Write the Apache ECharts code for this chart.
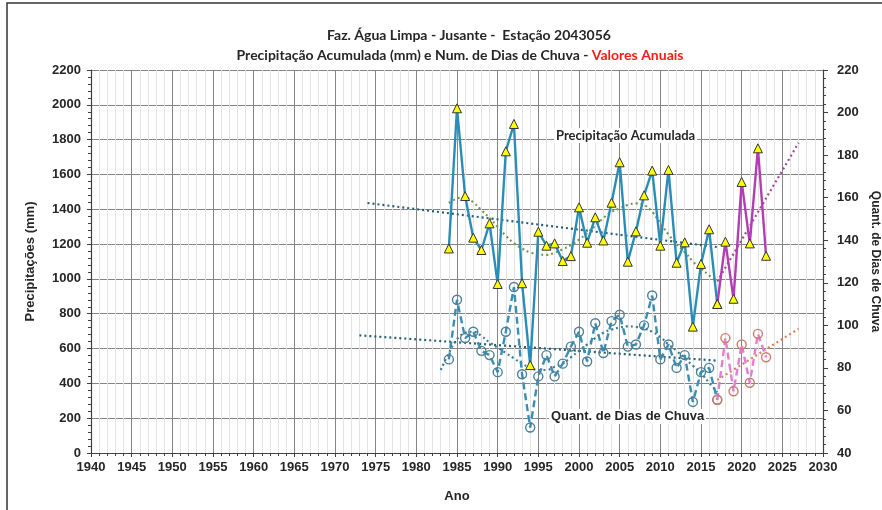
<!DOCTYPE html>
<html>
<head>
<meta charset="utf-8">
<script src="https://cdn.jsdelivr.net/npm/echarts@6/dist/echarts.min.js"></script>
<style>
  html, body { margin: 0; padding: 0; background: #fff; }
  #chart { width: 882px; height: 510px; }
</style>
</head>
<body>
<div id="chart"></div>
<script>
// anos da serie historica
const anos = [1984, 1985, 1986, 1987, 1988, 1989, 1990, 1991, 1992, 1993, 1994, 1995, 1996, 1997, 1998, 1999,
    2000, 2001, 2002, 2003, 2004, 2005, 2006, 2007, 2008, 2009, 2010, 2011, 2012, 2013, 2014, 2015, 2016, 2017]
const precip = [1175, 1980, 1476, 1237, 1166, 1319, 971, 1733, 1890, 975, 505, 1271, 1191, 1204, 1103, 1131,
    1411, 1208, 1354, 1221, 1438, 1670, 1099, 1273, 1480, 1622, 1191, 1626, 1093, 1210, 726, 1086, 1285, 856]
const diasChuva = [84, 112, 94, 97, 88, 86, 78, 97, 118, 77, 52, 76, 86, 76, 82, 90,
    97, 83, 101, 87, 102, 105, 90, 91, 100, 114, 84, 91, 80, 86, 64, 78, 80, 65]

// anos recentes
const anosRecentes = [2017, 2018, 2019, 2020, 2021, 2022, 2023]
const precipRecente = [856, 1214, 886, 1557, 1204, 1750, 1133]
const diasRecente = [65, 94, 69, 91, 73, 96, 85]

// linhas de tendencia
const tendPrecipAnos = [1974, 2017]
const tendPrecip = [1436, 1183]
const polyPrecipAnos = [1984, 1985, 1986, 1987, 1988, 1989, 1990, 1991, 1992, 1993, 1994, 1995, 1996, 1997, 1998, 1999,
    2000, 2001, 2002, 2003, 2004, 2005, 2006, 2007, 2008, 2009, 2010, 2011, 2012, 2013, 2014, 2015, 2016, 2017]
const polyPrecip = [1436, 1462, 1468, 1440, 1395, 1350, 1300, 1248, 1205, 1175, 1152, 1142, 1138, 1150, 1170, 1195,
    1225, 1265, 1305, 1350, 1385, 1405, 1425, 1434, 1425, 1385, 1320, 1255, 1200, 1155, 1100, 1060, 1020, 984]
const tendPrecipRecAnos = [2017, 2027]
const tendPrecipRec = [985, 1782]

const tendDiasAnos = [1973, 2017]
const tendDias = [95.3, 83.4]
const polyDiasAnos = [1983, 1984, 1985, 1986, 1987, 1988, 1989, 1990, 1991, 1992, 1993, 1994, 1995, 1996, 1997, 1998,
    1999, 2000, 2001, 2002, 2003, 2004, 2005, 2006, 2007, 2008, 2009, 2010, 2011, 2012, 2013, 2014, 2015, 2016, 2017]
const polyDias = [79, 87, 93.5, 96.5, 97, 95, 92, 89.5, 87, 84.5, 82, 80, 79, 79, 80.5, 82,
    85, 88, 91, 94, 96.5, 98, 99, 99.5, 99.3, 98.5, 97, 94.5, 91, 88, 84.5, 81, 77.5, 73, 68.7]
const tendDiasRecAnos = [2017, 2027]
const tendDiasRec = [74.3, 98.4]

const pares = (xs, ys) => xs.map((x, i) => [x, ys[i]])

const tickFont = {fontFamily: 'Liberation Sans', fontWeight: 'bold', fontSize: 13, color: '#262626', formatter: (v) => String(v)}
const nameFont = {fontFamily: 'Liberation Sans', fontWeight: 'bold', fontSize: 13, color: '#262626'}

const trend = (data, color, yAxisIndex, smooth) => ({
    type: 'line',
    data,
    yAxisIndex,
    smooth: smooth ? 0.4 : false,
    showSymbol: false,
    silent: true,
    z: 1,
    lineStyle: {color, width: 2.2, type: [2, 3]},
})

const myChart = echarts.init(document.getElementById('chart'))
myChart.setOption({
    animation: false,
    title: [
        {
            text: 'Faz. Água Limpa - Jusante -  Estação 2043056',
            left: 464,
            top: 23,
            textAlign: 'center',
            textStyle: {fontFamily: 'Lato', fontWeight: 'bold', fontSize: 14, color: '#262626'},
        },
        {
            text: 'Precipitação Acumulada (mm) e Num. de Dias de Chuva - {r|Valores Anuais}',
            left: 455,
            top: 43,
            textAlign: 'center',
            textStyle: {
                fontFamily: 'Lato',
                fontWeight: 'bold',
                fontSize: 14,
                color: '#262626',
                rich: {r: {fontFamily: 'Lato', fontWeight: 'bold', fontSize: 14, color: '#ff1a1a'}},
            },
        },
    ],
    grid: {left: 91, right: 59, top: 70, bottom: 57, outerBoundsMode: 'none'},
    graphic: [
        {
            type: 'rect',
            shape: {x: 7, y: 3, width: 1000, height: 600},
            style: {fill: 'transparent', stroke: '#333', lineWidth: 1.5},
            silent: true,
        },
        {
            type: 'text',
            left: 554,
            top: 128,
            z: 10,
            style: {text: 'Precipitação Acumulada', fill: '#262626', font: 'bold 13px Lato',
                backgroundColor: '#fff', padding: [1, 2]},
        },
        {
            type: 'text',
            left: 549,
            top: 409,
            z: 10,
            style: {text: 'Quant. de Dias de Chuva', fill: '#262626', font: 'bold 13px "Liberation Sans"',
                backgroundColor: '#fff', padding: [1, 2]},
        },
    ],
    xAxis: {
        type: 'value',
        min: 1940,
        max: 2030,
        interval: 5,
        name: 'Ano',
        nameLocation: 'middle',
        nameGap: 37,
        nameTextStyle: nameFont,
        axisLine: {lineStyle: {color: '#404040', width: 1.2}},
        axisTick: {show: true, length: 4, lineStyle: {color: '#404040'}},
        minorTick: {show: true, splitNumber: 5, length: 3, lineStyle: {color: '#404040'}},
        axisLabel: {...tickFont, margin: 8},
        splitLine: {show: true, lineStyle: {color: '#858585', width: 1}},
        minorSplitLine: {show: true, lineStyle: {color: '#e3e3e3', width: 1}},
    },
    yAxis: [
        {
            type: 'value',
            min: 0,
            max: 2200,
            interval: 200,
            name: 'Precipitações (mm)',
            nameLocation: 'middle',
            nameGap: 54,
            nameTextStyle: nameFont,
            axisLine: {show: true, lineStyle: {color: '#404040', width: 1.2}},
            axisTick: {show: true, length: 4, lineStyle: {color: '#404040'}},
            minorTick: {show: true, splitNumber: 5, length: 3, lineStyle: {color: '#404040'}},
            axisLabel: {...tickFont, margin: 10},
            splitLine: {show: true, lineStyle: {color: '#858585', width: 1}},
        },
        {
            type: 'value',
            min: 40,
            max: 220,
            interval: 20,
            position: 'right',
            name: 'Quant. de Dias de Chuva',
            nameLocation: 'middle',
            nameGap: 44,
            nameRotate: -90,
            nameTextStyle: {...nameFont, fontSize: 12},
            axisLine: {show: true, lineStyle: {color: '#404040', width: 1.2}},
            axisTick: {show: true, length: 5, lineStyle: {color: '#404040'}},
            minorTick: {show: true, splitNumber: 5, length: 3, lineStyle: {color: '#404040'}},
            axisLabel: {...tickFont, margin: 14},
            splitLine: {show: false},
        },
    ],
    series: [
        trend(pares(tendPrecipAnos, tendPrecip), '#245f73', 0, false),
        trend(pares(polyPrecipAnos, polyPrecip), '#6f9950', 0, true),
        trend(pares(tendPrecipRecAnos, tendPrecipRec), '#a5479f', 0, false),
        trend(pares(tendDiasAnos, tendDias), '#245f73', 1, false),
        trend(pares(polyDiasAnos, polyDias), '#3a7b92', 1, true),
        trend(pares(tendDiasRecAnos, tendDiasRec), '#d3825f', 1, false),
        {
            type: 'line',
            data: pares(anos, diasChuva),
            yAxisIndex: 1,
            z: 3,
            symbol: 'circle',
            symbolSize: 9,
            lineStyle: {color: '#3a8db3', width: 2.4, type: [7, 4]},
            itemStyle: {color: 'rgba(255,255,255,0)', borderColor: '#4d7f96', borderWidth: 1.4},
        },
        {
            type: 'line',
            data: pares(anosRecentes, diasRecente),
            yAxisIndex: 1,
            z: 3,
            symbol: 'circle',
            symbolSize: 9,
            lineStyle: {color: '#e27fd1', width: 2.4, type: [7, 4]},
            itemStyle: {color: 'rgba(255,255,255,0)', borderColor: '#cf7b6b', borderWidth: 1.4},
        },
        {
            type: 'line',
            data: pares(anos, precip),
            yAxisIndex: 0,
            z: 4,
            symbol: 'triangle',
            symbolSize: 9,
            lineStyle: {color: '#2a8db8', width: 2.4},
            itemStyle: {color: '#ffff00', borderColor: '#333', borderWidth: 1},
        },
        {
            type: 'line',
            data: pares(anosRecentes, precipRecente),
            yAxisIndex: 0,
            z: 4,
            symbol: 'triangle',
            symbolSize: 9,
            lineStyle: {color: '#b23db4', width: 2.4},
            itemStyle: {color: '#ffff00', borderColor: '#333', borderWidth: 1},
        },
    ],
})
</script>
</body>
</html>
